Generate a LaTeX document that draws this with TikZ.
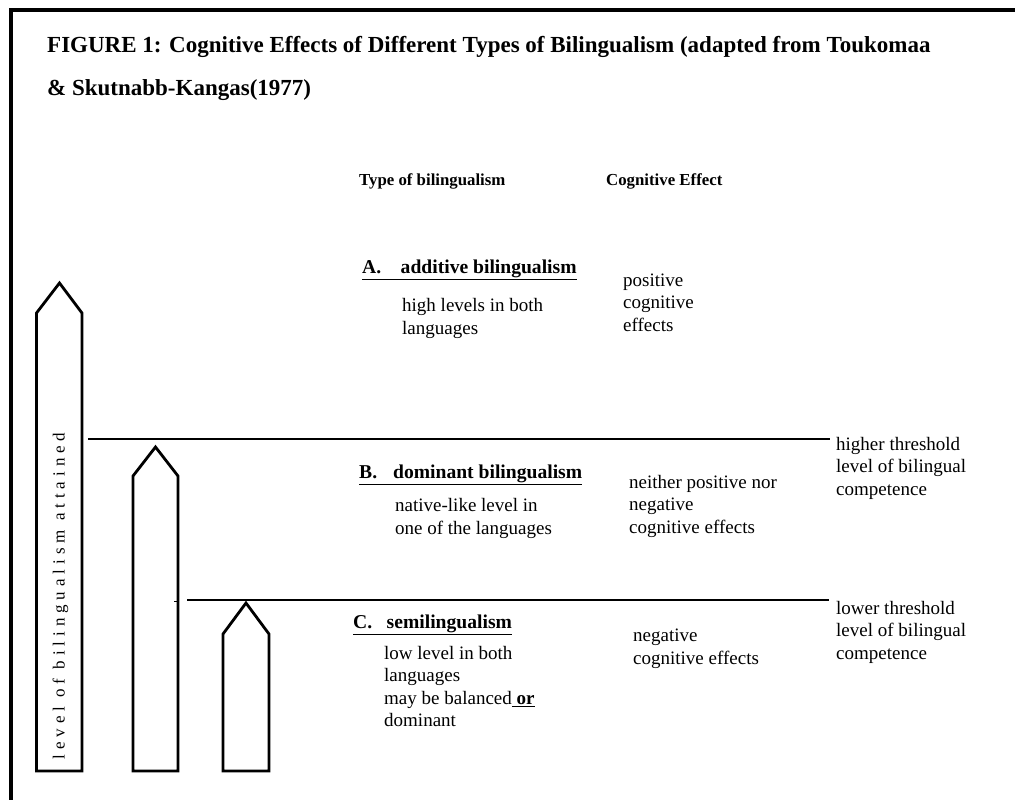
\documentclass[tikz,border=0pt]{standalone}
\usepackage{fontspec}
\setmainfont{Liberation Serif}
\usepackage{tikz}
\usetikzlibrary{positioning}

\begin{document}
\begin{tikzpicture}[
  x=1pt, y=-1pt,
  frame/.style={line width=3.5pt, line join=miter},
  bar/.style={line width=2.8pt, line join=miter},
  level/.style={line width=2.6pt},
  title/.style={anchor=north west, inner sep=0pt, align=left, font=\fontsize{23}{43}\selectfont\bfseries, execute at begin node=\strut},
  head/.style={anchor=base west, inner sep=0pt, font=\fontsize{16.8}{19}\selectfont\bfseries},
  kind/.style={anchor=base west, inner sep=0pt, font=\fontsize{19.6}{22}\selectfont\bfseries},
  txt/.style={anchor=north west, inner sep=0pt, align=left, font=\fontsize{19}{22.5}\selectfont, execute at begin node=\strut},
  axis/.style={rotate=90, inner sep=0pt, font=\fontsize{17}{19}\selectfont\addfontfeature{LetterSpace=29}}
]
  \useasboundingbox (0,0) rectangle (1015,800);
  \draw[frame] (11,800) -- (11,10) -- (1015,10);

  \node[title] (fig) at (47,36.4) {FIGURE 1: Cognitive Effects of Different Types of Bilingualism (adapted from Toukomaa\\\& Skutnabb-Kangas(1977)};

  \draw[bar] (36.5,771) -- (36.5,313) -- (59.5,283) -- (82,313) -- (82,771) -- cycle;
  \draw[bar] (133,771) -- (133,476) -- (155.5,447) -- (178,476) -- (178,771) -- cycle;
  \draw[bar] (223,771) -- (223,634) -- (246,603) -- (269,634) -- (269,771) -- cycle;
  \node[axis] (attained) at (60.5,596) {level of bilingualism attained};

  \coordinate (hiL) at (88,439);
  \coordinate (hiR) at (830,439);
  \coordinate (loL) at (187,600);
  \coordinate (loR) at (829,600);
  \draw[level] (hiL) -- (hiR);
  \draw[level] (loL) -- (loR);
  \draw[line width=1.5pt] (174,601.5) -- (178,601.5);

  \node[head] (typehd) at (359,185.5) {Type of bilingualism};
  \node[head] (effhd) at (606,185.5) {Cognitive Effect};

  \node[kind] (kindA) at (362,273) {\underline{A.\hspace{19.5pt}additive bilingualism}};
  \node[txt] (descA) at (402,298.6) {high levels in both\\languages};
  \node[txt] (effA) at (623,273.6) {positive\\cognitive\\effects};

  \node[kind] (kindB) at (359,478.5) {\underline{B.\hspace{16pt}dominant bilingualism}};
  \node[txt] (descB) at (395,498.6) {native-like level in\\one of the languages};
  \node[txt] (effB) at (629,475.1) {neither positive nor\\negative\\cognitive effects};
  \node[txt] (hiB) at (836,437.1) {higher threshold\\level of bilingual\\competence};

  \node[kind] (kindC) at (353,628) {\underline{C.\hspace{14.5pt}semilingualism}};
  \node[txt] (descC) at (384,646.1) {low level in both\\languages\\may be balanced\underline{\ \textbf{or}}\\dominant};
  \node[txt] (effC) at (633,629.1) {negative\\cognitive effects};
  \node[txt] (loC) at (836,601.1) {lower threshold\\level of bilingual\\competence};
\end{tikzpicture}
\end{document}
